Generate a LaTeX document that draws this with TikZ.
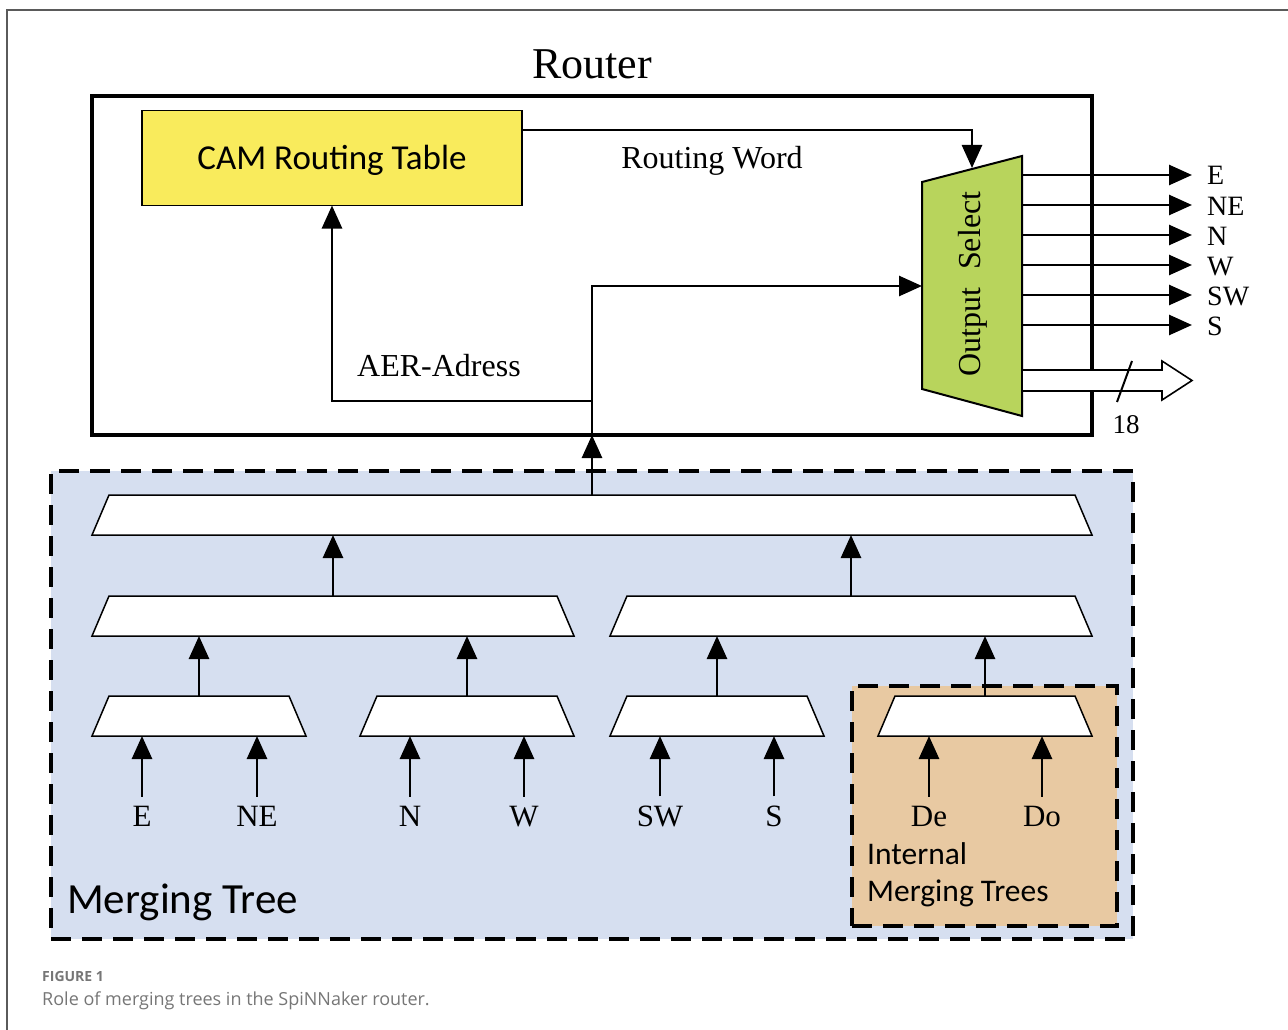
\documentclass[tikz,border=0pt]{standalone}
\usepackage{fontspec}
\setmainfont{Liberation Serif}
\newfontfamily\calibrifont{Carlito}
\newfontfamily\capfont{Open Sans}
\usetikzlibrary{arrows.meta}
\definecolor{camyellow}{RGB}{249,235,92}
\definecolor{osgreen}{RGB}{184,212,92}
\definecolor{mtblue}{RGB}{214,223,240}
\definecolor{imtan}{RGB}{232,201,162}
\definecolor{capgray}{RGB}{118,118,118}
\definecolor{framegray}{RGB}{90,90,90}
\newcommand\fs[1]{\fontsize{#1}{#1}\selectfont}
\newcommand\trapnode[4]{%
  \node[anchorbox, minimum width=#4pt] (#1) at (#2,#3) {};
  \draw[trapz] (#1.south west) -- ([xshift=17pt]#1.north west) -- ([xshift=-17pt]#1.north east) -- (#1.south east) -- cycle;}
\begin{document}
\begin{tikzpicture}[x=1pt,y=-1pt,
  conn/.style={line width=2.7pt},
  tip/.style={-{Triangle[length=23pt,width=20pt]}},
  trapz/.style={draw, line width=1.5pt, fill=white, line join=miter},
  anchorbox/.style={rectangle, inner sep=0pt, outer sep=0pt, minimum height=40pt},
  seriflbl/.style={font=\fs{31}, inner sep=0pt},
  outlbl/.style={font=\fs{28}, inner sep=0pt},
  sanslbl/.style={font=\calibrifont\fs{31.5}, inner sep=0pt},
  dashbox/.style={draw, line width=3.5pt, dash pattern=on 20pt off 11pt, inner sep=0pt, outer sep=0pt},
]
\useasboundingbox (0,0) rectangle (1288,1030);
% card frame
\draw[framegray, line width=1.2pt] (7,1030) -- (7,10) -- (1288,10);

% title
\node[font=\fs{44}, inner sep=0pt, anchor=base] (title) at (592,79) {Router};

% merging tree background
\node[dashbox, fill=mtblue, minimum width=1082pt, minimum height=468pt] (mt) at (592,705) {};
\node[dashbox, fill=imtan, minimum width=265pt, minimum height=240pt] (imt) at (984.5,806) {};

% router box
\node[draw, line width=3.5pt, inner sep=0pt, outer sep=0pt, minimum width=1000pt, minimum height=339pt] (router) at (592,265.5) {};

% CAM
\node[draw, line width=1.5pt, fill=camyellow, inner sep=0pt, outer sep=0pt, minimum width=380pt, minimum height=95pt] (cam) at (332,158) {};
\node[font=\calibrifont\fs{35}, inner sep=0pt, anchor=base] (camtxt) at (332,170) {CAM Routing Table};

% output select
\node[rectangle, inner sep=0pt, outer sep=0pt, minimum width=100pt, minimum height=260pt] (os) at (972,286) {};
\draw[line width=2pt, fill=osgreen, line join=miter] ([yshift=27pt]os.south west) -- ([yshift=-26pt]os.north west) -- (os.north east) -- (os.south east) -- cycle;
\node[font=\fs{32}, inner sep=0pt, rotate=90, anchor=base] (ostxt) at (980,284) {Output\hspace{0.55em}Select};

% routing word
\coordinate (ostop) at (972,168);
\draw[conn, tip] ([yshift=28pt]cam.east) -| (ostop);
\node[font=\fs{32}, inner sep=0pt, anchor=base] (rw) at (712,168) {Routing Word};

% AER address
\coordinate (aerj) at (592,401);
\draw[conn, tip] (router.south) -- (router.south |- os.west) -- (os.west);
\draw[conn, tip] (aerj) -| (cam.south);
\node[font=\fs{32}, inner sep=0pt, anchor=base] (aer) at (439,376) {AER-Adress};

% outputs
\foreach \lab [count=\i from 0] in {E,NE,N,W,SW,S} {
  \pgfmathsetmacro\yy{175+30*\i}
  \coordinate (out\i) at (1192,\yy);
  \draw[conn, tip] (os.east |- out\i) -- (out\i);
  \node[outlbl, anchor=base west] (ol\i) at (1207,\yy+10) {\lab};
}
% 18-bit bus
\coordinate (busA) at (1023,370);
\coordinate (busB) at (1023,391);
\draw[line width=1.6pt, fill=white, line join=miter] (busA) -- (1162,370) -- (1162,361) -- (1192,380.5) -- (1162,400) -- (1162,391) -- (busB);
\coordinate (slA) at (1132,361);
\coordinate (slB) at (1117,402);
\draw[line width=2pt] (slA) -- (slB);
\node[font=\fs{27}, inner sep=0pt] (bits) at (1126,425) {18};

% merging tree trapezoids
\trapnode{t0}{592}{515}{1000}
\trapnode{m1}{333}{616}{482}
\trapnode{m2}{851}{616}{482}
\trapnode{b1}{199}{716}{214}
\trapnode{b2}{467}{716}{214}
\trapnode{b3}{717}{716}{214}
\trapnode{b4}{985}{716}{214}

\draw[conn, tip] (t0.north) -- (router.south);
\draw[conn, tip] (m1.north) -- (m1.north |- t0.south);
\draw[conn, tip] (m2.north) -- (m2.north |- t0.south);
\draw[conn, tip] (b1.north) -- (b1.north |- m1.south);
\draw[conn, tip] (b2.north) -- (b2.north |- m1.south);
\draw[conn, tip] (b3.north) -- (b3.north |- m2.south);
\draw[conn, tip] (b4.north) -- (b4.north |- m2.south);

% inputs
\foreach \lab/\xx/\tgt in {E/142/b1, NE/257/b1, N/410/b2, W/524/b2, SW/660/b3, S/774/b3, De/929/b4, Do/1042/b4} {
  \node[seriflbl, anchor=base] (in\lab) at (\xx,826) {\lab};
  \draw[conn, tip] ([yshift=9pt]in\lab.north) -- (in\lab.north |- \tgt.south);
}

% box labels
\node[sanslbl, anchor=base west] (intl) at (867,864) {Internal};
\node[sanslbl, anchor=base west] (imtl) at (867,901) {Merging Trees};
\node[font=\calibrifont\fs{43}, inner sep=0pt, anchor=base west] (mtl) at (67,913) {Merging Tree};

% caption
\node[font=\capfont\bfseries\fs{14}, text=capgray, inner sep=0pt, anchor=base west] (fig) at (42,981) {FIGURE 1};
\node[font=\capfont\fs{18}, text=capgray, inner sep=0pt, anchor=base west] (cap) at (42,1005) {Role of merging trees in the SpiNNaker router.};
\end{tikzpicture}
\end{document}
